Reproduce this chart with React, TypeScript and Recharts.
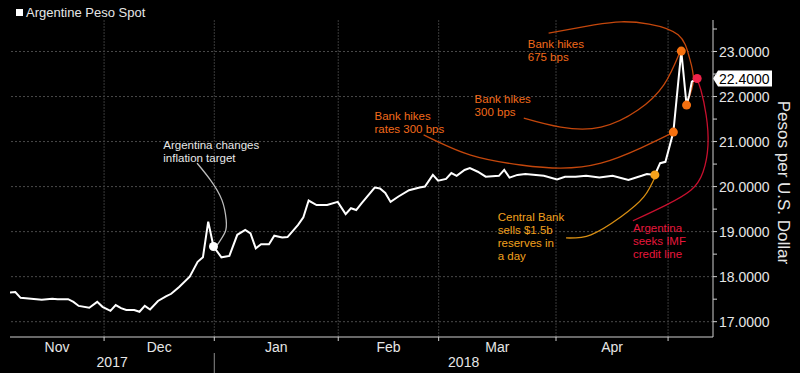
import React from 'react';
import { LineChart, Line, XAxis, YAxis, ReferenceLine, ReferenceDot } from 'recharts';

const FONT = "'Liberation Sans', Arial, sans-serif";

// business-day index from the first plotted session
const tradingDay = [0, 1, 2, 3, 5, 6, 8, 9, 11, 12, 13, 15, 16.5, 17.5, 19, 20, 21, 22, 23.5, 24.5, 25.5, 26.5, 28, 29.5, 30.5, 32, 34, 35.5, 36.5, 37.5, 38.5, 40, 41.5, 43, 44.5, 45.5, 46.5, 47.5, 49, 50, 51.5, 52.5, 54.5, 55.5, 56.5, 58, 60, 62, 63.5, 64.5, 65.5, 66.5, 69, 70, 71, 72, 73.5, 75.5, 77.5, 78.5, 80, 81, 82.5, 83.5, 84.5, 86, 87, 88.5, 90, 92.5, 93.5, 94.5, 96, 97.5, 101, 103.5, 105, 107, 109, 111.5, 114, 117, 119.5, 120.5, 122, 123, 124, 125.5, 127, 128, 128.5, 129, 130];
const pesoSpot = [17.65, 17.66, 17.53, 17.52, 17.5, 17.49, 17.51, 17.5, 17.5, 17.44, 17.35, 17.31, 17.44, 17.33, 17.24, 17.37, 17.3, 17.26, 17.26, 17.22, 17.35, 17.27, 17.46, 17.56, 17.62, 17.77, 18.0, 18.33, 18.43, 19.22, 18.67, 18.43, 18.46, 18.93, 19.04, 18.96, 18.63, 18.72, 18.72, 18.91, 18.87, 18.88, 19.15, 19.32, 19.69, 19.59, 19.59, 19.66, 19.39, 19.52, 19.48, 19.63, 19.98, 19.96, 19.86, 19.66, 19.78, 19.92, 19.98, 20.0, 20.26, 20.13, 20.17, 20.3, 20.24, 20.37, 20.41, 20.33, 20.22, 20.24, 20.37, 20.2, 20.26, 20.28, 20.24, 20.16, 20.22, 20.22, 20.24, 20.2, 20.24, 20.15, 20.24, 20.28, 20.26, 20.52, 20.55, 21.21, 23.01, 21.81, 22.03, 22.33, 22.4];

const xDomain = [0, 133];
const monthBoundaries = [17.8, 38.65, 62.1, 81.1, 103.3, 124.5]; // Dec 1 .. May 1
const monthLabels = ['Nov', 'Dec', 'Jan', 'Feb', 'Mar', 'Apr'];
const yearLabels = ['2017', '2018'];
const yearBoundary = 38.65;
const priceMajor = [17, 18, 19, 20, 21, 22, 23];
const priceMinor = [17.5, 18.5, 19.5, 20.5, 21.5, 22.5, 23.5];
const yDomain = [16.66, 23.7];

// event markers (index into the series)
const eventIdx = [30, 84, 87, 88, 89, 92];
const eventColors = ['#ffffff', '#f7a21b', '#f5700f', '#f5700f', '#f5700f', '#f0234a'];

const annotations = [
  { lines: ['Argentina changes', 'inflation target'], x: 29.0, v: 20.92, color: '#e8e8e8' },
  { lines: ['Bank hikes', 'rates 300 bps'], x: 68.96, v: 21.57, color: '#f26a1b' },
  { lines: ['Bank hikes', '300 bps'], x: 87.9, v: 21.95, color: '#f26a1b' },
  { lines: ['Bank hikes', '675 bps'], x: 97.95, v: 23.17, color: '#f26a1b' },
  { lines: ['Central Bank', 'sells $1.5b', 'reserves in', 'a day'], x: 92.27, v: 19.33, color: '#f2a01e' },
  { lines: ['Argentina', 'seeks IMF', 'credit line'], x: 117.85, v: 19.08, color: '#e8173c' },
];

const leaderCurves = [
  { color: '#bdbdbd', x: [35.4, 37.9, 40.1, 40.9, 40.7, 39.2], v: [20.52, 20.15, 19.7, 19.26, 18.99, 18.7] },
  { color: '#c4470c', x: [78.25, 87.15, 96.63, 104.2, 111.8, 119.4, 125.6], v: [21.15, 20.7, 20.48, 20.41, 20.52, 20.86, 21.21] },
  { color: '#c4470c', x: [97.2, 104.2, 111.8, 118.8, 123.7, 126.75], v: [21.52, 21.32, 21.32, 21.7, 22.26, 22.99] },
  { color: '#c4470c', x: [101.9, 110.5, 115.6, 120.9, 126.4, 128.5, 129.3, 128.1], v: [23.41, 23.59, 23.66, 23.61, 23.37, 22.88, 22.37, 21.86] },
  { color: '#d88e12', x: [105.2, 109.9, 115.6, 119.9, 122.2], v: [18.86, 18.93, 19.33, 19.77, 20.26] },
  { color: '#c8102e', x: [117.85, 124.1, 128.8, 131.1, 132.05, 131.7, 130.7, 130.0], v: [19.24, 19.59, 19.92, 20.32, 20.92, 21.59, 22.15, 22.37] },
];

const mainData = tradingDay.map((x, i) => ({ x, v: pesoSpot[i] }));
const monthEdges = [xDomain[0], ...monthBoundaries];
const monthCenters = monthLabels.map((_, i) => (monthEdges[i] + monthEdges[i + 1]) / 2);
const yearCenters = [(xDomain[0] + yearBoundary) / 2, (yearBoundary + xDomain[1]) / 2];

const MonthTick = (props: any) => {
  const { x, y, payload } = props;
  const val = payload.value;
  if (monthBoundaries.includes(val)) {
    return <line x1={x} x2={x} y1={y} y2={y + 4} stroke="#cfcfcf" strokeWidth={1} />;
  }
  const i = monthCenters.indexOf(val);
  return (
    <text x={x} y={y + 15} textAnchor="middle" fill="#e6e6e6" fontSize={14} fontFamily={FONT}>
      {monthLabels[i]}
    </text>
  );
};

const YearTick = (props: any) => {
  const { x, y, payload } = props;
  const val = payload.value;
  if (val === yearBoundary) {
    return <line x1={x} x2={x} y1={y - 2} y2={y + 18} stroke="#8a8a8a" strokeWidth={1} />;
  }
  const i = yearCenters.indexOf(val);
  return (
    <text x={x} y={y + 12} textAnchor="middle" fill="#e6e6e6" fontSize={14} fontFamily={FONT}>
      {yearLabels[i]}
    </text>
  );
};

const PriceTick = (props: any) => {
  const { x, y, payload } = props;
  if (!priceMajor.includes(payload.value)) return <g />;
  return (
    <text x={x} y={y} dy="0.36em" textAnchor="start" fill="#e6e6e6" fontSize={14} fontFamily={FONT}>
      {payload.value.toFixed(4)}
    </text>
  );
};

const AxisTitle = (props: any) => {
  const vb = props.viewBox;
  const cx = vb.x + vb.width - 17;
  const cy = vb.y + vb.height / 2 + 4;
  return (
    <text x={cx} y={cy} textAnchor="middle" dominantBaseline="central" transform={`rotate(90, ${cx}, ${cy})`} fill="#e6e6e6" fontSize={17} fontFamily={FONT}>
      Pesos per U.S. Dollar
    </text>
  );
};

const lastValue = pesoSpot[pesoSpot.length - 1];

const LastValueTag = (props: any) => {
  const vb = props.viewBox;
  const x0 = vb.x + vb.width;
  const y = vb.y;
  return (
    <g>
      <polygon points={`${x0},${y} ${x0 + 5},${y - 8} ${x0 + 59},${y - 8} ${x0 + 59},${y + 8} ${x0 + 5},${y + 8}`} fill="#ffffff" />
      <text x={x0 + 6} y={y} dy="0.36em" fill="#000000" fontSize={14} fontFamily={FONT}>
        {lastValue.toFixed(4)}
      </text>
    </g>
  );
};

const makeAnnotLabel = (lines: string[], color: string) => (props: any) => {
  const vb = props.viewBox;
  return (
    <text x={vb.x} y={vb.y} fill={color} fontSize={11.5} fontFamily={FONT}>
      {lines.map((l, i) => (
        <tspan key={i} x={vb.x} dy={i === 0 ? '0.36em' : 13}>
          {l}
        </tspan>
      ))}
    </text>
  );
};

export default function App() {
  const priceTicks = [...priceMajor, ...priceMinor].sort((a, b) => a - b);
  return (
    <div style={{ position: 'fixed', left: 0, top: 0, width: 800, height: 373, background: '#000000', overflow: 'hidden' }}>
      <div style={{ position: 'absolute', left: 16, top: 5, display: 'flex', alignItems: 'center', fontFamily: FONT, fontSize: 13, color: '#e6e6e6' }}>
        <span style={{ display: 'inline-block', width: 7, height: 7, background: '#ffffff', marginRight: 3 }} />
        <span>Argentine Peso Spot</span>
      </div>
      <LineChart width={800} height={373} margin={{ top: 20, right: 0, bottom: 0, left: 10 }}>
        <XAxis xAxisId="m" type="number" dataKey="x" domain={xDomain} allowDataOverflow ticks={[...monthBoundaries, ...monthCenters]} interval={0} tick={MonthTick} tickLine={false} tickSize={0} tickMargin={0} axisLine={{ stroke: '#cfcfcf' }} height={18} />
        <XAxis xAxisId="y" type="number" dataKey="x" domain={xDomain} allowDataOverflow ticks={[yearCenters[0], yearBoundary, yearCenters[1]]} interval={0} tick={YearTick} tickLine={false} tickSize={0} tickMargin={0} axisLine={false} height={18} />
        <YAxis yAxisId="p" orientation="right" type="number" domain={yDomain} allowDataOverflow ticks={priceTicks} interval={0} tick={PriceTick} tickSize={4} tickMargin={2} width={87} axisLine={{ stroke: '#cfcfcf' }} tickLine={{ stroke: '#cfcfcf' }} label={AxisTitle} />

        {priceMajor.map((p) => (
          <ReferenceLine key={'h' + p} xAxisId="m" yAxisId="p" y={p} stroke="#4a4a4a" strokeDasharray="2 2" />
        ))}
        {monthBoundaries.map((b) => (
          <ReferenceLine key={'v' + b} xAxisId="m" yAxisId="p" x={b} stroke="#3a3a3a" strokeDasharray="2 1" />
        ))}

        {leaderCurves.map((c, i) => (
          <Line key={'c' + i} xAxisId="m" yAxisId="p" data={c.x.map((x, j) => ({ x, v: c.v[j] }))} dataKey="v" type="natural" stroke={c.color} strokeWidth={1.3} dot={false} activeDot={false} isAnimationActive={false} />
        ))}

        <Line xAxisId="m" yAxisId="p" data={mainData} dataKey="v" type="linear" stroke="#ffffff" strokeWidth={2} dot={false} activeDot={false} isAnimationActive={false} />

        {eventIdx.map((idx, i) => (
          <ReferenceDot key={'d' + i} xAxisId="m" yAxisId="p" x={tradingDay[idx]} y={pesoSpot[idx]} r={4.5} fill={eventColors[i]} stroke="none" />
        ))}

        {annotations.map((a, i) => (
          <ReferenceDot key={'a' + i} xAxisId="m" yAxisId="p" x={a.x} y={a.v} r={0} fill="none" stroke="none" label={makeAnnotLabel(a.lines, a.color)} />
        ))}

        <ReferenceLine xAxisId="m" yAxisId="p" y={lastValue} stroke="none" label={LastValueTag} />
      </LineChart>
    </div>
  );
}
